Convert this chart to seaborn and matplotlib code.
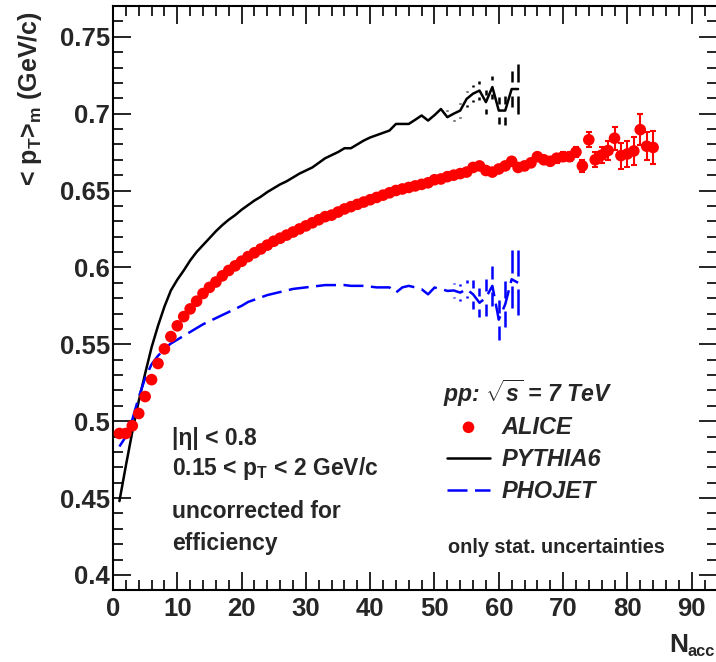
import numpy as np
import pandas as pd
import matplotlib
matplotlib.use("Agg")
import matplotlib.pyplot as plt
import seaborn as sns
from matplotlib.ticker import MultipleLocator, FixedLocator, FixedFormatter

# ---------------- data ----------------
alice_n = list(range(1, 85))
alice_mpt = [
    0.492, 0.492, 0.497, 0.505, 0.516, 0.527, 0.5375, 0.547, 0.555, 0.562,
    0.568, 0.573, 0.578, 0.583, 0.587, 0.5905, 0.5945, 0.598, 0.601, 0.604,
    0.607, 0.6095, 0.612, 0.6145, 0.617, 0.619, 0.621, 0.623, 0.625, 0.627,
    0.629, 0.631, 0.633, 0.634, 0.636, 0.638, 0.6395, 0.641, 0.6425, 0.644,
    0.6455, 0.647, 0.6485, 0.650, 0.651, 0.652, 0.653, 0.654, 0.655, 0.657,
    0.6575, 0.659, 0.660, 0.661, 0.662, 0.665, 0.666, 0.663, 0.662, 0.664,
    0.666, 0.669, 0.665, 0.666, 0.668, 0.672, 0.670, 0.669, 0.671, 0.672,
    0.672, 0.675, 0.666, 0.683, 0.670, 0.673, 0.676, 0.684, 0.6727, 0.6738,
    0.6757, 0.6896, 0.6788, 0.678]
alice_err = [
    0.0003, 0.0003, 0.0003, 0.0003, 0.0003, 0.0003, 0.0003, 0.0003, 0.0003, 0.0003,
    0.0005, 0.0005, 0.0005, 0.0005, 0.0005, 0.0005, 0.0005, 0.0005, 0.0005, 0.0005,
    0.0005, 0.0005, 0.0005, 0.0005, 0.0005, 0.0005, 0.0005, 0.0005, 0.0005, 0.0005,
    0.0008, 0.0008, 0.0008, 0.0008, 0.0008, 0.0008, 0.0008, 0.0008, 0.0008, 0.0008,
    0.0008, 0.0008, 0.0008, 0.0008, 0.0008, 0.0012, 0.0012, 0.0012, 0.0012, 0.0012,
    0.0012, 0.0012, 0.0012, 0.0012, 0.0012, 0.0018, 0.0018, 0.0018, 0.0018, 0.0018,
    0.0018, 0.0018, 0.0025, 0.0025, 0.0025, 0.0025, 0.0025, 0.0025, 0.003, 0.003,
    0.003, 0.003, 0.004, 0.0048, 0.005, 0.0052, 0.006, 0.0076, 0.0085, 0.0085,
    0.009, 0.0103, 0.009, 0.011]

pythia_n = list(range(1, 64))
pythia_mpt = [
    0.448, 0.471, 0.493, 0.513, 0.531, 0.548, 0.562, 0.5745, 0.585, 0.592,
    0.598, 0.6045, 0.610, 0.6145, 0.619, 0.6235, 0.6275, 0.631, 0.634, 0.6375,
    0.6405, 0.6435, 0.646, 0.649, 0.6515, 0.654, 0.656, 0.6585, 0.661, 0.663,
    0.665, 0.668, 0.671, 0.673, 0.675, 0.6775, 0.6775, 0.680, 0.6825, 0.6845,
    0.686, 0.6875, 0.689, 0.6933, 0.6933, 0.6933, 0.696, 0.6988, 0.6955, 0.699,
    0.703, 0.6977, 0.700, 0.702, 0.7096, 0.713, 0.715, 0.7075, 0.7173, 0.702,
    0.702, 0.716, 0.716]
pythia_err = [
    0.0005, 0.0005, 0.0005, 0.0005, 0.0005, 0.0005, 0.0005, 0.0005, 0.0005, 0.0005,
    0.0008, 0.0008, 0.0008, 0.0008, 0.0008, 0.0008, 0.0008, 0.0008, 0.0008, 0.0008,
    0.001, 0.001, 0.001, 0.001, 0.001, 0.001, 0.001, 0.001, 0.001, 0.001,
    0.0015, 0.0015, 0.0015, 0.0015, 0.0015, 0.0015, 0.0015, 0.0015, 0.0015, 0.0015,
    0.002, 0.002, 0.0025, 0.0025, 0.003, 0.003, 0.0035, 0.0035, 0.004, 0.004,
    0.0042, 0.0044, 0.0046, 0.0049, 0.0052, 0.0056, 0.006, 0.008, 0.0075, 0.0085,
    0.0095, 0.012, 0.016]

phojet_n = list(range(1, 64))
phojet_mpt = [
    0.4835, 0.490, 0.501, 0.5155, 0.528, 0.537, 0.5425, 0.547, 0.5505, 0.553,
    0.5555, 0.558, 0.5605, 0.563, 0.565, 0.567, 0.569, 0.571, 0.573, 0.575,
    0.5775, 0.579, 0.5805, 0.582, 0.583, 0.584, 0.585, 0.586, 0.5865, 0.587,
    0.5875, 0.588, 0.5885, 0.5885, 0.5885, 0.5885, 0.588, 0.588, 0.588, 0.5875,
    0.587, 0.587, 0.587, 0.5836, 0.587, 0.588, 0.587, 0.5858, 0.5825, 0.5869,
    0.586, 0.5847, 0.585, 0.5836, 0.5858, 0.5825, 0.577, 0.5803, 0.588, 0.566,
    0.576, 0.5923, 0.590]
phojet_err = [
    0.0005, 0.0005, 0.0005, 0.0005, 0.0005, 0.0005, 0.0005, 0.0005, 0.0005, 0.0005,
    0.0008, 0.0008, 0.0008, 0.0008, 0.0008, 0.0008, 0.0008, 0.0008, 0.0008, 0.0008,
    0.001, 0.001, 0.001, 0.001, 0.001, 0.001, 0.001, 0.001, 0.001, 0.001,
    0.0015, 0.0015, 0.0015, 0.0015, 0.0015, 0.0015, 0.0015, 0.0015, 0.0015, 0.0015,
    0.002, 0.002, 0.0025, 0.0025, 0.003, 0.003, 0.0035, 0.0035, 0.004, 0.0042,
    0.0044, 0.0048, 0.005, 0.0055, 0.006, 0.0095, 0.0095, 0.012, 0.013, 0.013,
    0.015, 0.019, 0.021]

x_ticks = [0, 10, 20, 30, 40, 50, 60, 70, 80, 90]
y_ticks = [0.4, 0.45, 0.5, 0.55, 0.6, 0.65, 0.7, 0.75]
y_tick_labels = ["0.4", "0.45", "0.5", "0.55", "0.6", "0.65", "0.7", "0.75"]

# ---------------- style ----------------
sns.set_theme(style="ticks")
plt.rcParams["font.family"] = ["Liberation Sans", "DejaVu Sans"]
plt.rcParams["font.weight"] = "bold"
plt.rcParams["mathtext.fontset"] = "custom"
plt.rcParams["mathtext.rm"] = "Liberation Sans:bold"
plt.rcParams["mathtext.it"] = "Liberation Sans:italic:bold"
plt.rcParams["mathtext.bf"] = "Liberation Sans:bold"
plt.rcParams["mathtext.sf"] = "Liberation Sans:bold"

W, H = 716, 662
fig = plt.figure(figsize=(W / 100, H / 100), dpi=100)
x0, x1 = 113, 717.4
y_top, y_bot = 6, 590.3
ax = fig.add_axes([x0 / W, 1 - y_bot / H, (x1 - x0) / W, (y_bot - y_top) / H])

df_alice = pd.DataFrame({"N": alice_n, "mpt": alice_mpt, "err": alice_err})
df_py = pd.DataFrame({"N": pythia_n, "mpt": pythia_mpt, "err": pythia_err})
df_ph = pd.DataFrame({"N": phojet_n, "mpt": phojet_mpt, "err": phojet_err})

LW = 1.8
# MC curves
sns.lineplot(data=df_py, x="N", y="mpt", color="black", lw=LW, ax=ax,
             estimator=None, sort=False, label="PYTHIA6", zorder=2)
sns.lineplot(data=df_ph, x="N", y="mpt", color="#0000ff", lw=LW, ax=ax,
             estimator=None, sort=False, label="PHOJET", zorder=2)
ax.lines[-1].set_dashes((8, 3))

# MC error bars (ROOT style, with a gap around the point)
gap = 0.0043
for df, col in ((df_py, "black"), (df_ph, "#0000ff")):
    m = df["err"] > gap
    d = df[m]
    ax.vlines(d["N"], d["mpt"] + gap, d["mpt"] + d["err"], color=col, lw=LW, zorder=2)
    ax.vlines(d["N"], d["mpt"] - d["err"], d["mpt"] - gap, color=col, lw=LW, zorder=2)

# ALICE data
ax.errorbar(df_alice["N"], df_alice["mpt"], yerr=df_alice["err"], fmt="none",
            ecolor="#ff0000", elinewidth=1.5, capsize=2.5, capthick=1.5, zorder=3)
sns.scatterplot(data=df_alice, x="N", y="mpt", color="#ff0000", s=70,
                edgecolor="none", linewidth=0, ax=ax, label="ALICE", zorder=4)

# ---------------- axes ----------------
ax.set_xlim(0, 94)
ax.set_ylim(0.39, 0.77)
ax.xaxis.set_major_locator(FixedLocator(x_ticks))
ax.xaxis.set_minor_locator(MultipleLocator(2))
ax.yaxis.set_major_locator(FixedLocator(y_ticks))
ax.yaxis.set_major_formatter(FixedFormatter(y_tick_labels))
ax.yaxis.set_minor_locator(MultipleLocator(0.01))
ax.tick_params(which="both", direction="in", top=True, right=True,
               labelsize=18.5, width=1.2, color="black")
ax.tick_params(which="major", length=13)
ax.tick_params(which="minor", length=7)
ax.tick_params(axis="x", pad=5)
ax.tick_params(axis="y", pad=2)
for lab in ax.get_xticklabels() + ax.get_yticklabels():
    lab.set_fontweight("bold")
for sp in ax.spines.values():
    sp.set_linewidth(1.5)
    sp.set_color("black")
ax.set_xlabel("")
ax.set_ylabel("")

# axis titles
fig.text(30 / W, 1 - 11 / H, r"< p$_{\rm T}$>$_{\rm m}$ (GeV/c)", rotation=90,
         ha="center", va="top", fontsize=18, fontweight="bold")
fig.text(669 / W, 1 - 651.7 / H, "N", ha="left", va="baseline",
         fontsize=19, fontweight="bold")
fig.text(687 / W, 1 - 656 / H, "acc", ha="left", va="baseline",
         fontsize=11.8, fontweight="bold")

# legend
LEG_FS = 17
handles, labels = ax.get_legend_handles_labels()
order = [labels.index(k) for k in ("ALICE", "PYTHIA6", "PHOJET")]
leg = ax.legend([handles[i] for i in order], [labels[i] for i in order],
                loc="upper left", bbox_to_anchor=(447 / W, 1 - 415.5 / H),
                bbox_transform=fig.transFigure, frameon=False,
                prop={"size": LEG_FS, "weight": "bold", "style": "italic"},
                handlelength=1.82, handletextpad=0.5, labelspacing=0.40,
                borderpad=0, borderaxespad=0, markerscale=1.0)

fig.text(443.3 / W, 1 - 401.7 / H, r"pp: $\sqrt{s}$ = 7 TeV", ha="left",
         va="baseline", fontsize=16.6, fontweight="bold", fontstyle="italic")

# annotations
txt_kw = dict(ha="left", va="baseline", fontsize=16.5, fontweight="bold")
fig.text(171.7 / W, 1 - 445 / H, "|η| < 0.8", **txt_kw)
fig.text(171.7 / W, 1 - 475 / H, r"0.15 < p$_{\rm T}$ < 2 GeV/c", **txt_kw)
fig.text(171.7 / W, 1 - 518.3 / H, "uncorrected for", **txt_kw)
fig.text(171.7 / W, 1 - 550 / H, "efficiency", **txt_kw)
fig.text(448.3 / W, 1 - 552.7 / H, "only stat. uncertainties", ha="left",
         va="baseline", fontsize=14.3, fontweight="bold")

fig.savefig("out.png", dpi=100)
